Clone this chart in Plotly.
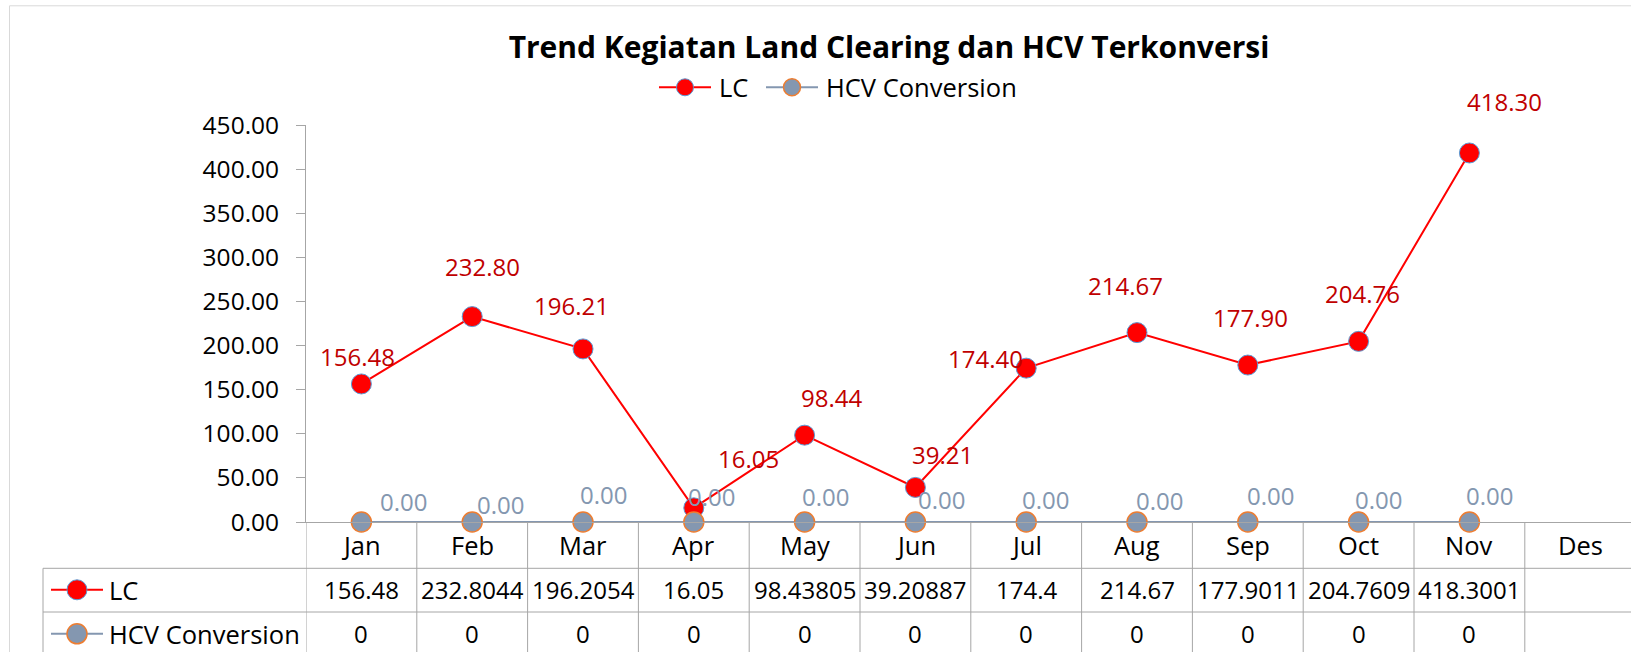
import plotly.graph_objects as go

# ---------------- data ----------------
months = ["Jan", "Feb", "Mar", "Apr", "May", "Jun", "Jul", "Aug", "Sep", "Oct", "Nov", "Des"]
lc_values = [156.48, 232.8044, 196.2054, 16.05, 98.43805, 39.20887, 174.4, 214.67, 177.9011, 204.7609, 418.3001]
hcv_values = [0, 0, 0, 0, 0, 0, 0, 0, 0, 0, 0]
y_ticks = [0, 50, 100, 150, 200, 250, 300, 350, 400, 450]
series_names = ["LC", "HCV Conversion"]
chart_title = "Trend Kegiatan Land Clearing dan HCV Terkonversi"

# ---------------- styling ----------------
W, H = 1631, 652
L, R, T, B = 306, 1631, 124.7, 521.7      # plot area in pixels
CAT_W = 110.8                              # category width in pixels
FONT = "Segoe UI, Open Sans, sans-serif"
FS_TXT = 25.5
FS_NUM = 24
FS_TICK = 24.5
GRID = "#A6A6A6"
LC_COLOR = "#FF0000"
LC_EDGE = "#5B9BD5"
LC_LABEL = "#C00000"
HCV_COLOR = "#8497B0"
HCV_EDGE = "#ED7D31"

# label offsets (pixels, right / up) for data labels
lc_label_dx = [-4, 10, -12, 55, 27, 27, -41, -12, 3, 4, 35]
lc_label_dy = [27, 50, 43, 49, 38, 33, 10, 47, 48, 48, 51]
hcv_label_dx = [42, 28, 20, 18, 21, 26, 19, 22, 23, 20, 20]
hcv_label_dy = [21, 18, 28, 26, 26, 23, 23, 22, 27, 23, 27]


def px(x):
    return (x - L) / (R - L)


def py(y):
    return (B - y) / (B - T)


fig = go.Figure()
fig.add_trace(go.Scatter(
    x=months[:len(lc_values)], y=lc_values, name=series_names[0], mode="lines+markers",
    line=dict(color=LC_COLOR, width=2),
    marker=dict(size=20, color=LC_COLOR, line=dict(color=LC_EDGE, width=1)),
    cliponaxis=False, showlegend=False,
))
fig.add_trace(go.Scatter(
    x=months[:len(hcv_values)], y=hcv_values, name=series_names[1], mode="lines+markers",
    line=dict(color=HCV_COLOR, width=2),
    marker=dict(size=20, color=HCV_COLOR, line=dict(color=HCV_EDGE, width=1.5)),
    cliponaxis=False, showlegend=False,
))

annotations = []
# data labels
for i, v in enumerate(lc_values):
    annotations.append(dict(x=i, y=v, xref="x", yref="y", text=f"{v:.2f}", showarrow=False,
                            xshift=lc_label_dx[i], yshift=lc_label_dy[i],
                            font=dict(family=FONT, size=FS_NUM, color=LC_LABEL)))
for i, v in enumerate(hcv_values):
    annotations.append(dict(x=i, y=v, xref="x", yref="y", text=f"{v:.2f}", showarrow=False,
                            xshift=hcv_label_dx[i], yshift=hcv_label_dy[i],
                            font=dict(family=FONT, size=FS_NUM, color=HCV_COLOR)))

# data table: header row (categories)
ROW_Y = [545, 589.5, 633.5]
for i, m in enumerate(months):
    annotations.append(dict(x=i, y=py(ROW_Y[0]), xref="x", yref="paper", text=m, showarrow=False,
                            yanchor="middle", font=dict(family=FONT, size=FS_TXT, color="#000000")))
for r, vals in enumerate([lc_values, hcv_values]):
    for i, v in enumerate(vals):
        annotations.append(dict(x=i, y=py(ROW_Y[r + 1]), xref="x", yref="paper", text=str(v),
                                showarrow=False, yanchor="middle",
                                font=dict(family=FONT, size=FS_NUM, color="#000000")))
    annotations.append(dict(x=px(107), y=py(ROW_Y[r + 1]), xref="paper", yref="paper",
                            text=series_names[r], showarrow=False, xanchor="left", yanchor="middle",
                            font=dict(family=FONT, size=FS_TXT, color="#000000")))

shapes = []
# outer chart border (top / left visible)
shapes.append(dict(type="line", xref="paper", yref="paper", x0=px(9.5), x1=px(1640),
                   y0=py(5.5), y1=py(5.5), line=dict(color="#D9D9D9", width=1)))
shapes.append(dict(type="line", xref="paper", yref="paper", x0=px(9.5), x1=px(9.5),
                   y0=py(5.5), y1=py(660), line=dict(color="#D9D9D9", width=1)))
# table vertical lines
for k in range(len(months)):
    shapes.append(dict(type="line", xref="x", yref="paper", x0=k - 0.5, x1=k - 0.5,
                       y0=0, y1=py(660), line=dict(color=GRID, width=1)))
shapes.append(dict(type="line", xref="paper", yref="paper", x0=px(43), x1=px(43),
                   y0=py(568), y1=py(660), line=dict(color=GRID, width=1)))
# table horizontal lines
for yy in [568, 611.7, 655.5]:
    shapes.append(dict(type="line", xref="paper", yref="paper", x0=px(43), x1=px(1640),
                       y0=py(yy), y1=py(yy), line=dict(color=GRID, width=1)))

# legend keys (table rows and top legend)
keys = [(LC_COLOR, LC_EDGE, 1), (HCV_COLOR, HCV_EDGE, 1.5)]


def add_key(xc, yc, half, radius, color, edge, ew):
    shapes.append(dict(type="line", xref="paper", yref="paper", x0=px(xc - half), x1=px(xc + half),
                       y0=py(yc), y1=py(yc), line=dict(color=color, width=2)))
    shapes.append(dict(type="circle", xref="paper", yref="paper", xsizemode="pixel",
                       ysizemode="pixel", xanchor=px(xc), yanchor=py(yc),
                       x0=-radius, x1=radius, y0=-radius, y1=radius,
                       fillcolor=color, line=dict(color=edge, width=ew)))


for r, (col, edge, ew) in enumerate(keys):
    add_key(77, ROW_Y[r + 1], 26, 10, col, edge, ew)

# top legend
LEG_Y = 87
legend_items = [(685, 717), (792, 824)]
for r, (col, edge, ew) in enumerate(keys):
    kx, tx = legend_items[r]
    add_key(kx, LEG_Y, 26, 8.5, col, edge, ew)
    annotations.append(dict(x=px(tx), y=py(LEG_Y), xref="paper", yref="paper", text=series_names[r],
                            showarrow=False, xanchor="left", yanchor="middle",
                            font=dict(family=FONT, size=FS_TXT, color="#000000")))

fig.update_layout(
    width=W, height=H,
    margin=dict(l=L, r=W - R, t=T, b=H - B, pad=0),
    paper_bgcolor="white", plot_bgcolor="white",
    font=dict(family=FONT, size=FS_TXT, color="#000000"),
    title=dict(text=f"<b>{chart_title}</b>", x=889 / W, xref="container", xanchor="center",
               y=1 - 47 / H, yref="container", yanchor="middle",
               font=dict(family=FONT, size=30, color="#000000")),
    showlegend=False,
    hovermode=False,
    xaxis=dict(type="category", categoryorder="array", categoryarray=months,
               range=[-0.5, -0.5 + (R - L) / CAT_W], showticklabels=False, ticks="",
               showline=True, linecolor=GRID, linewidth=1, showgrid=False, zeroline=False,
               fixedrange=True),
    yaxis=dict(range=[0, 450], tickvals=y_ticks, tickformat=".2f", ticks="outside", ticklen=9,
               tickcolor=GRID, showline=True, linecolor=GRID, linewidth=1, showgrid=False,
               zeroline=False, tickfont=dict(family=FONT, size=FS_TICK, color="#000000"),
               ticklabelstandoff=12, fixedrange=True),
    annotations=annotations,
    shapes=shapes,
)

fig.write_html("out.html", config={"displayModeBar": False},
               post_script="document.body.style.margin='0';")
